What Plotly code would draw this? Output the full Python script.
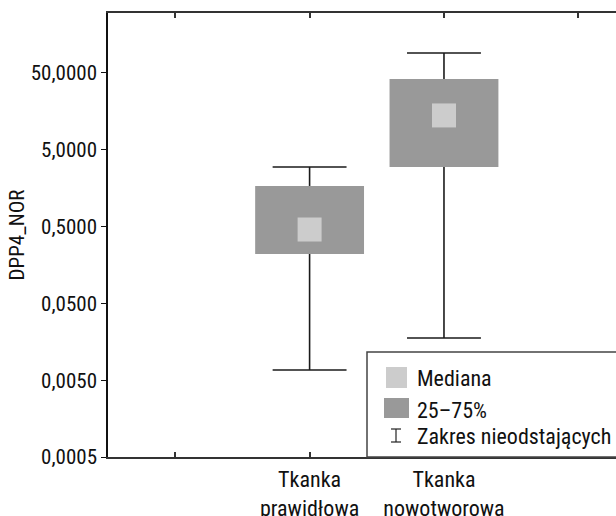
import plotly.graph_objects as go

# ---- data ----
categories = ["", "Tkanka<br>prawidłowa", "Tkanka<br>nowotworowa", ""]
group_pos = [1, 2]
q1 = [0.22, 2.99]
median = [0.458, 14.0]
q3 = [1.69, 41.8]
whisker_low = [0.0068, 0.0177]
whisker_high = [2.99, 91.0]
y_tickvals = [0.0005, 0.005, 0.05, 0.5, 5, 50]
y_ticktext = ["0,0005", "0,0050", "0,0500", "0,5000", "5,0000", "50,0000"]
legend_labels = ["Mediana", "25–75%", "Zakres nieodstających"]

FONT = "Roboto Condensed, Liberation Sans Narrow, Roboto, sans-serif"
BOX_COLOR = "#999999"
MED_COLOR = "#cccccc"
BOX_W = 0.81
CAP_HW = 0.275

fig = go.Figure()

fig.add_trace(go.Bar(
    x=group_pos, y=[b - a for a, b in zip(q1, q3)], base=q1,
    width=BOX_W, marker=dict(color=BOX_COLOR, line=dict(width=0)),
    showlegend=False, hoverinfo="skip"))

wx, wy = [], []
for xi, a, b, lo, hi in zip(group_pos, q1, q3, whisker_low, whisker_high):
    wx += [xi, xi, None, xi - CAP_HW, xi + CAP_HW, None,
           xi, xi, None, xi - CAP_HW, xi + CAP_HW, None]
    wy += [b, hi, None, hi, hi, None, a, lo, None, lo, lo, None]
fig.add_trace(go.Scatter(x=wx, y=wy, mode="lines",
                         line=dict(color="#1a1a1a", width=1.6),
                         showlegend=False, hoverinfo="skip"))

fig.add_trace(go.Scatter(x=group_pos, y=median, mode="markers",
                         marker=dict(symbol="square", size=24, color=MED_COLOR,
                                     line=dict(width=0)),
                         showlegend=False))

# ---- manual legend ----
PL, PR, PT, PB = 108, 616, 13, 457
def px(x):
    return (x - PL) / (PR - PL)
def py(y):
    return (PB - y) / (PB - PT)

shapes = [
    dict(type="rect", xref="paper", yref="paper", x0=px(367), x1=1.05,
         y0=0, y1=py(352), line=dict(color="#444444", width=1.5),
         fillcolor="white", layer="above"),
    dict(type="rect", xref="paper", yref="paper", x0=px(386), x1=px(407),
         y0=py(388), y1=py(367), line=dict(width=0), fillcolor=MED_COLOR,
         layer="above"),
    dict(type="rect", xref="paper", yref="paper", x0=px(384), x1=px(409),
         y0=py(418), y1=py(398), line=dict(width=0), fillcolor=BOX_COLOR,
         layer="above"),
    dict(type="line", xref="paper", yref="paper", x0=px(396), x1=px(396),
         y0=py(429), y1=py(442), line=dict(color="#222222", width=1.2),
         layer="above"),
    dict(type="line", xref="paper", yref="paper", x0=px(391), x1=px(401),
         y0=py(429), y1=py(429), line=dict(color="#222222", width=1.2),
         layer="above"),
    dict(type="line", xref="paper", yref="paper", x0=px(391), x1=px(401),
         y0=py(442), y1=py(442), line=dict(color="#222222", width=1.2),
         layer="above"),
]
annotations = []
for lab, yc in zip(legend_labels, [378, 410, 436]):
    annotations.append(dict(xref="paper", yref="paper", x=px(415), y=py(yc),
                            text=lab, showarrow=False, xanchor="left",
                            yanchor="middle",
                            font=dict(family=FONT, size=22, color="#111111")))

fig.update_layout(
    width=616, height=516,
    margin=dict(l=108, r=0, t=13, b=59),
    plot_bgcolor="white", paper_bgcolor="white",
    font=dict(family=FONT, size=21, color="#111111"),
    shapes=shapes, annotations=annotations,
    showlegend=False,
    xaxis=dict(range=[-0.5, 3.28], tickvals=[0, 1, 2, 3], ticktext=categories,
               showgrid=False, zeroline=False, showline=True, mirror="ticks",
               linecolor="#333333", linewidth=2, ticks="inside", ticklen=5,
               tickcolor="#333333", tickwidth=1.5, ticklabelstandoff=2,
               automargin=False,
               tickfont=dict(family=FONT, size=22, color="#111111")),
    yaxis=dict(type="log", range=[-3.30103, 2.480],
               tickvals=y_tickvals, ticktext=y_ticktext,
               showgrid=False, zeroline=False, showline=True,
               linecolor="#111111", linewidth=1.5, ticks="outside", ticklen=5,
               tickcolor="#111111", automargin=False,
               tickfont=dict(family=FONT, size=21, color="#111111"),
               title=dict(text="DPP4_NOR", standoff=0,
                          font=dict(family=FONT, size=21, color="#111111"))),
)

fig.write_html("out.html")
